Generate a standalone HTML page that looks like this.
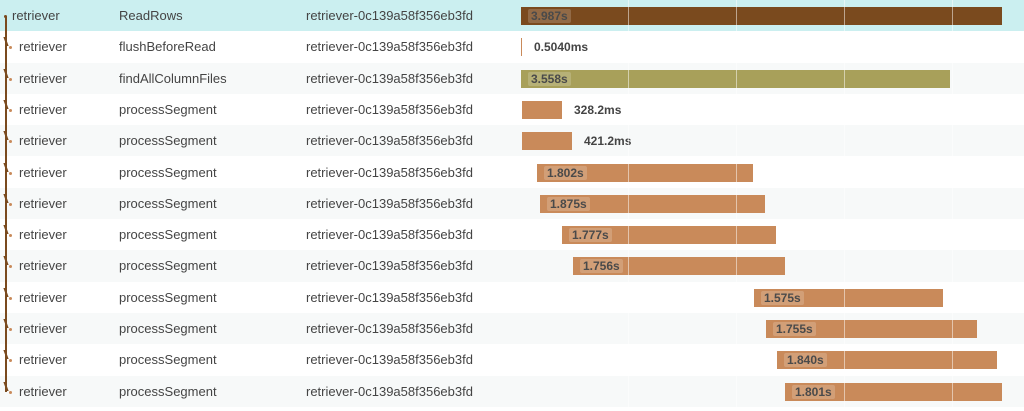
<!DOCTYPE html>
<html><head><meta charset="utf-8"><style>
body{margin:0;width:1024px;height:411px;overflow:hidden;background:#fff;font-family:"Liberation Sans",sans-serif;position:relative}
.row{position:absolute;left:0;width:1024px;height:31.3px}
.t{position:absolute;font-size:13px;color:#444;line-height:31px;top:0}
.bar{position:absolute;height:18px}
.lb{position:absolute;font-size:12px;font-weight:bold;color:#444;line-height:18px}
.in{position:absolute;left:7px;top:2px;height:14px;line-height:14px;padding:0 3px;background:rgba(255,255,255,0.18);border-radius:2px;font-size:12px;font-weight:bold;color:#4a4a4a}
.g{position:absolute;top:0;width:1px;height:411px;background:rgba(255,255,255,0.5)}
.dot{position:absolute;width:3px;height:3px;border-radius:50%;background:#c98a5a}
</style></head><body>
<div id="c"></div>
<script>
const rows=[
["ReadRows",521,1002,"3.987s",1,"#7a4a1e"],
["flushBeforeRead",521,522,"0.5040ms",0,"#c98a5a"],
["findAllColumnFiles",521,950,"3.558s",1,"#a8a05a"],
["processSegment",522,562,"328.2ms",0,"#c98a5a"],
["processSegment",522,572,"421.2ms",0,"#c98a5a"],
["processSegment",537,753,"1.802s",1,"#c98a5a"],
["processSegment",540,765,"1.875s",1,"#c98a5a"],
["processSegment",562,776,"1.777s",1,"#c98a5a"],
["processSegment",573,785,"1.756s",1,"#c98a5a"],
["processSegment",754,943,"1.575s",1,"#c98a5a"],
["processSegment",766,977,"1.755s",1,"#c98a5a"],
["processSegment",777,997,"1.840s",1,"#c98a5a"],
["processSegment",785,1002,"1.801s",1,"#c98a5a"]];
let h="";
const P=31.3;
rows.forEach((r,i)=>{
 const top=i*P;
 const bg=i==0?"#cbeff0":(i%2==0?"#f7f9f9":"#fff");
 h+=`<div class="row" style="top:${top}px;background:${bg}">`;
 const lx=i==0?12:19;
 h+=`<div class="t" style="left:${lx}px">retriever</div>`;
 h+=`<div class="t" style="left:119px">${r[0]}</div>`;
 h+=`<div class="t" style="left:306px">retriever-0c139a58f356eb3fd</div>`;
 h+=`<div class="dot" style="left:${i==0?4:9}px;top:15px;background:${i==0?'#7a4a1e':'#c98a5a'}"></div>`;
 if(i>0)h+=`<div style="position:absolute;left:5px;top:6px;width:4px;height:9px;border-left:2px solid #7a4a1e;border-bottom:0;transform:skewX(20deg)"></div>`;
 const w=Math.max(1,r[2]-r[1]);
 h+=`<div class="bar" style="left:${r[1]}px;top:7px;width:${w}px;background:${r[5]}">`;
 if(r[4])h+=`<span class="in">${r[3]}</span>`;
 h+=`</div>`;
 if(!r[4])h+=`<div class="lb" style="left:${r[2]+12}px;top:7px">${r[3]}</div>`;
 h+=`</div>`;
});
[628,736,844,952].forEach(x=>h+=`<div class="g" style="left:${x}px"></div>`);
h+=`<div style="position:absolute;left:5px;top:16px;width:2px;height:376px;background:#7a4a1e"></div>`;
document.getElementById("c").innerHTML=h;
</script>
</body></html>
